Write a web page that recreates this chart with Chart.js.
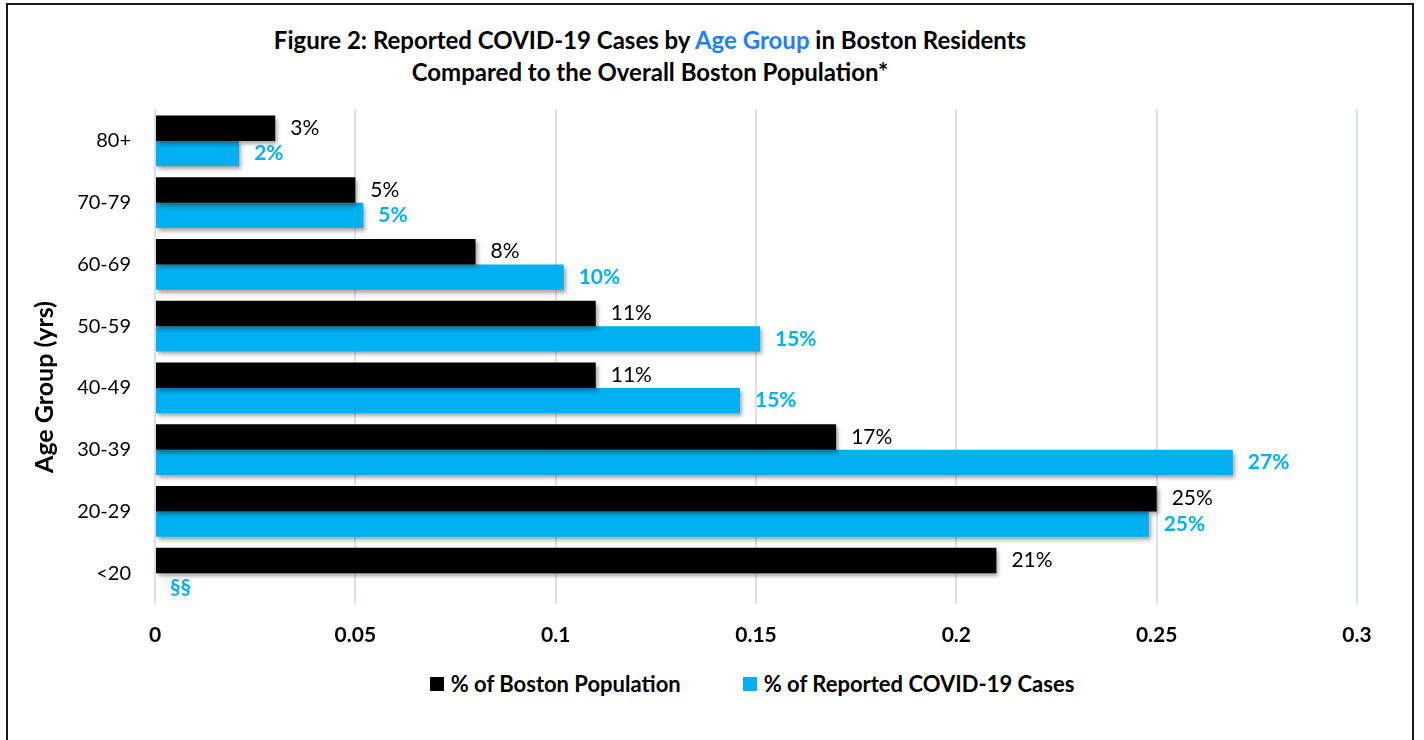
<!DOCTYPE html>
<html>
<head>
<meta charset="utf-8">
<script src="https://cdn.jsdelivr.net/npm/chart.js@4.4.1/dist/chart.umd.min.js"></script>
<style>
    html, body { margin: 0; padding: 0; background: #fff; }
    body { width: 1424px; height: 740px; position: relative; overflow: hidden; font-family: Lato, "Open Sans", sans-serif; }
    .frame { position: absolute; left: 6px; top: 3px; width: 1408px; height: 760px; border: 2px solid #1a1a1a; box-sizing: border-box; }
    .title { position: absolute; left: 0; top: 24px; width: 1300px; text-align: center; font-weight: bold; font-size: 24px; line-height: 32px; color: #000; }
    .title .hl { color: #1f7fff; }
    .legend { position: absolute; left: 0; width: 1504px; top: 672px; display: flex; justify-content: center; font-weight: bold; font-size: 22px; line-height: 24px; }
    .legend .item { display: flex; align-items: center; margin: 0 31px; }
    .legend .box { width: 14px; height: 14px; margin-right: 7px; }
    canvas { position: absolute; left: 0; top: 0; }
</style>
</head>
<body>
<div class="frame"></div>
<div class="title">Figure 2: Reported COVID-19 Cases by <span class="hl">Age Group</span> in Boston Residents<br>Compared to the Overall Boston Population*</div>
<div class="legend">
    <div class="item"><span class="box" style="background:#000"></span>% of Boston Population</div>
    <div class="item"><span class="box" style="background:#00b0f0"></span>% of Reported COVID-19 Cases</div>
</div>
<canvas id="chart" width="1424" height="740"></canvas>
<script>
    var ageGroups = ['80+', '70-79', '60-69', '50-59', '40-49', '30-39', '20-29', '<20'];
    var populationShare = [0.03, 0.05, 0.08, 0.11, 0.11, 0.17, 0.25, 0.21];
    var caseShare = [0.021, 0.052, 0.102, 0.151, 0.146, 0.269, 0.248, null];
    var suppressedNote = '§§';
    var xTicks = [0, 0.05, 0.1, 0.15, 0.2, 0.25, 0.3];
    var yAxisTitle = 'Age Group (yrs)';

    var black = '#000000';
    var cyan = '#00b0f0';
    var fontFamily = 'Lato, "Open Sans", sans-serif';

    // Soft drop shadow under the bars, like the original office chart.
    var barShadow = {
        id: 'barShadow',
        beforeDatasetsDraw: function (chart) {
            var ctx = chart.ctx;
            ctx.save();
            ctx.shadowColor = 'rgba(0,0,0,0.35)';
            ctx.shadowBlur = 4;
            ctx.shadowOffsetX = 2;
            ctx.shadowOffsetY = 3;
        },
        afterDatasetsDraw: function (chart) {
            chart.ctx.restore();
        }
    };

    // Percent labels at the end of each bar.
    var barLabels = {
        id: 'barLabels',
        afterDatasetsDraw: function (chart) {
            var ctx = chart.ctx;
            var xScale = chart.scales.x;
            ctx.save();
            ctx.textBaseline = 'middle';
            ctx.textAlign = 'left';
            chart.data.datasets.forEach(function (ds, di) {
                var meta = chart.getDatasetMeta(di);
                ctx.fillStyle = ds.labelColor;
                ctx.font = ds.labelWeight + ' 21px ' + fontFamily;
                meta.data.forEach(function (bar, i) {
                    var v = ds.data[i];
                    if (v === null || v === undefined) {
                        ctx.fillText(suppressedNote, xScale.getPixelForValue(0) + 15, chart.scales.y.getPixelForValue(i) + 14);
                        return;
                    }
                    ctx.fillText(Math.round(v * 100) + '%', bar.x + 15, bar.y);
                });
            });
            ctx.restore();
        }
    };

    // Y axis title sits a bit below the middle of the axis in the original.
    var axisTitle = {
        id: 'axisTitle',
        afterDraw: function (chart) {
            var ctx = chart.ctx;
            var area = chart.chartArea;
            ctx.save();
            ctx.translate(45, (area.top + area.bottom) / 2 + 30);
            ctx.rotate(-Math.PI / 2);
            ctx.textAlign = 'center';
            ctx.textBaseline = 'middle';
            ctx.fillStyle = black;
            ctx.font = 'bold 25px ' + fontFamily;
            ctx.fillText(yAxisTitle, 0, 0);
            ctx.restore();
        }
    };

    new Chart(document.getElementById('chart'), {
        type: 'bar',
        data: {
            labels: ageGroups,
            datasets: [
                {
                    label: '% of Boston Population',
                    data: populationShare,
                    backgroundColor: black,
                    labelColor: black,
                    labelWeight: 'normal',
                    categoryPercentage: 0.82,
                    barPercentage: 1
                },
                {
                    label: '% of Reported COVID-19 Cases',
                    data: caseShare,
                    backgroundColor: cyan,
                    labelColor: cyan,
                    labelWeight: 'bold',
                    categoryPercentage: 0.82,
                    barPercentage: 1
                }
            ]
        },
        options: {
            indexAxis: 'y',
            responsive: false,
            animation: false,
            layout: {
                padding: {left: 28, top: 110, right: 67, bottom: 0}
            },
            plugins: {
                legend: {display: false},
                title: {display: false},
                tooltip: {enabled: false}
            },
            scales: {
                x: {
                    min: 0,
                    max: 0.3,
                    afterFit: function (scale) { scale.height = 136; },
                    afterBuildTicks: function (scale) {
                        scale.ticks = xTicks.map(function (v) { return {value: v}; });
                    },
                    ticks: {
                        color: black,
                        padding: 19,
                        font: {family: fontFamily, size: 21, weight: 'bold'},
                        callback: function (v) { return String(v); }
                    },
                    grid: {color: '#d9e2f3', lineWidth: 2, drawTicks: false},
                    border: {display: false}
                },
                y: {
                    afterFit: function (scale) { scale.width = 127; },
                    ticks: {
                        color: black,
                        padding: 24,
                        font: {family: fontFamily, size: 20}
                    },
                    grid: {display: false, drawTicks: false},
                    border: {display: false},
                    title: {display: false}
                }
            }
        },
        plugins: [barShadow, barLabels, axisTitle]
    });
</script>
</body>
</html>
